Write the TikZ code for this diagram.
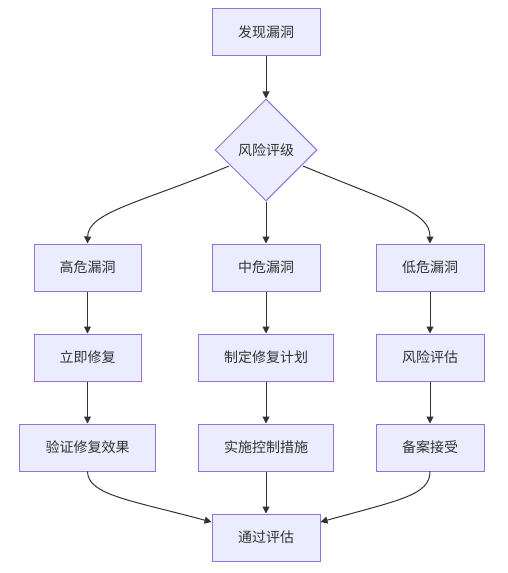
\documentclass[tikz,border=0pt]{standalone}
\usepackage{fontspec}
\setmainfont{Noto Sans CJK SC}
\usetikzlibrary{shapes.geometric,arrows.meta}
\definecolor{boxfill}{HTML}{ECECFF}
\definecolor{boxline}{HTML}{9370DB}
\definecolor{txt}{HTML}{333333}
\definecolor{edge}{HTML}{333333}
\begin{document}
\begin{tikzpicture}[x=1bp,y=-1bp,
  box/.style={draw=boxline,fill=boxfill,line width=1bp,minimum height=47bp,text=txt,
    font=\fontsize{14bp}{16bp}\selectfont,inner sep=0pt},
  dia/.style={draw=boxline,fill=boxfill,line width=1bp,diamond,aspect=1,minimum width=102bp,
    minimum height=102bp,inner sep=0pt,text=txt,font=\fontsize{14bp}{16bp}\selectfont},
  arr/.style={draw=edge,line width=1bp,-{Triangle[length=7bp,width=7bp]}}]
\useasboundingbox (0,0) rectangle (508,573);
\node[box,minimum width=108bp] (find) at (266,32.5) {发现漏洞};
\node[dia] (risk) at (266,150) {风险评级};
\node[box,minimum width=107bp] (high) at (87.5,267.5) {高危漏洞};
\node[box,minimum width=108bp] (mid) at (266,267.5) {中危漏洞};
\node[box,minimum width=108bp] (low) at (430,267.5) {低危漏洞};
\node[box,minimum width=107bp] (fix) at (87.5,357.5) {立即修复};
\node[box,minimum width=135bp] (plan) at (266,357.5) {制定修复计划};
\node[box,minimum width=108bp] (assess) at (430,357.5) {风险评估};
\node[box,minimum width=135bp] (verify) at (87.5,447.5) {验证修复效果};
\node[box,minimum width=135bp] (ctrl) at (266,447.5) {实施控制措施};
\node[box,minimum width=108bp] (accept) at (430,447.5) {备案接受};
\node[box,minimum width=108bp] (pass) at (266,537.5) {通过评估};
\coordinate (rl) at (229,166);
\coordinate (rr) at (303,166);
\draw[arr] (find) -- (risk);
\draw[arr] (rl) .. controls (140,203) and (88,212) .. (high.north);
\draw[arr] (risk) -- (mid);
\draw[arr] (rr) .. controls (392,203) and (430,212) .. (low.north);
\draw[arr] (high) -- (fix);
\draw[arr] (mid) -- (plan);
\draw[arr] (low) -- (assess);
\draw[arr] (fix) -- (verify);
\draw[arr] (plan) -- (ctrl);
\draw[arr] (assess) -- (accept);
\draw[arr] (ctrl) -- (pass);
\draw[arr] (verify.south) .. controls (88,495) and (130,500) .. (pass.west |- 0,522);
\draw[arr] (accept.south) .. controls (430,495) and (400,500) .. (pass.east |- 0,522);
\end{tikzpicture}
\end{document}
